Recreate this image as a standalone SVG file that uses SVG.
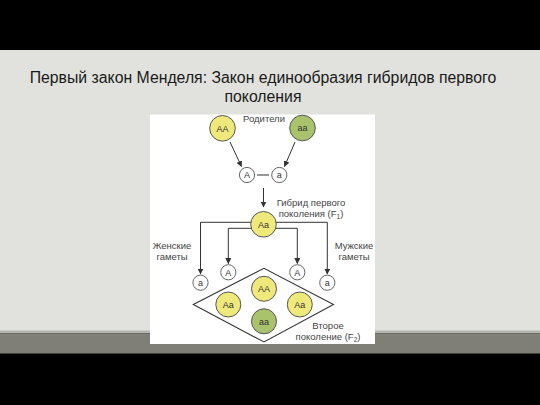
<svg xmlns="http://www.w3.org/2000/svg" width="540" height="405" viewBox="0 0 540 405">
<defs>
<marker id="ah" viewBox="0 0 10 10" refX="9" refY="5" markerWidth="6" markerHeight="6" orient="auto" markerUnits="userSpaceOnUse">
<path d="M0,0 L10,5 L0,10 z" fill="#333"/>
</marker>
<style>
.big{stroke:#555;stroke-width:1}
.y{fill:#efe97c}
.g{fill:#a9c36c}
.sm{fill:#fff;stroke:#555;stroke-width:0.9}
.ct{font-family:"Liberation Sans",Arial,sans-serif;font-size:9px;fill:#333;text-anchor:middle}
.lb{font-family:"Liberation Sans",Arial,sans-serif;font-size:9.5px;fill:#444;text-anchor:middle}
.ln{fill:none;stroke:#333;stroke-width:1}
</style>
</defs>
<rect x="0" y="0" width="540" height="405" fill="#000"/>
<rect x="0" y="50" width="540" height="281" fill="#e1e2dd"/>
<rect x="0" y="330.5" width="540" height="3" fill="#b4b5ad"/>
<rect x="0" y="333.5" width="540" height="20" fill="#7f7f78"/>
<rect x="150" y="114.5" width="225" height="229.5" fill="#fff"/>
<g id="title" font-family="'Liberation Sans',Arial,sans-serif" font-size="15.8" fill="#1a1a1a" text-anchor="middle">
<text x="263" y="83">Первый закон Менделя: Закон единообразия гибридов первого</text>
<text x="263" y="102">поколения</text>
</g>
<g id="connectors">
<line class="ln" x1="230" y1="142" x2="241.5" y2="166.5" marker-end="url(#ah)"/>
<line class="ln" x1="295" y1="142" x2="284.5" y2="166.5" marker-end="url(#ah)"/>
<line class="ln" x1="257" y1="175" x2="269" y2="175"/>
<line class="ln" x1="263.5" y1="188" x2="263.5" y2="207" marker-end="url(#ah)"/>
<polyline class="ln" points="251,222.3 200.5,222.3 200.5,274" marker-end="url(#ah)"/>
<polyline class="ln" points="252,228.3 228.3,228.3 228.3,263.5" marker-end="url(#ah)"/>
<polyline class="ln" points="276,222.3 327.3,222.3 327.3,274" marker-end="url(#ah)"/>
<polyline class="ln" points="275,228.3 297.3,228.3 297.3,263.5" marker-end="url(#ah)"/>
<polygon points="193.3,304.5 264,268.3 333.5,304.5 264,342" fill="none" stroke="#333" stroke-width="1.1"/>
</g>
<g id="labels">
<text class="lb" x="264" y="121.5">Родители</text>
<text class="lb" x="311" y="206">Гибрид первого</text>
<text class="lb" x="311" y="217">поколения (F<tspan font-size="6.5" dy="2">1</tspan><tspan dy="-2">)</tspan></text>
<text class="lb" x="172" y="248.5">Женские</text>
<text class="lb" x="172" y="260">гаметы</text>
<text class="lb" x="354" y="248.5">Мужские</text>
<text class="lb" x="354" y="260">гаметы</text>
<text class="lb" x="328" y="329">Второе</text>
<text class="lb" x="328" y="340">поколение (F<tspan font-size="6.5" dy="2">2</tspan><tspan dy="-2">)</tspan></text>
</g>
<g id="parent-AA"><circle class="big y" cx="222.5" cy="128.3" r="12.8"/><text class="ct" x="222.5" y="131.5">AA</text></g>
<g id="parent-aa"><circle class="big g" cx="302.5" cy="128" r="12.8"/><text class="ct" x="302.5" y="131.2">aa</text></g>
<g id="gamete-A"><circle class="sm" cx="247" cy="175" r="7.6"/><text class="ct" x="247" y="178.2">A</text></g>
<g id="gamete-a"><circle class="sm" cx="279.3" cy="175" r="7.6"/><text class="ct" x="279.3" y="178.2">a</text></g>
<g id="F1-Aa"><circle class="big y" cx="263.5" cy="224.3" r="12.8"/><text class="ct" x="263.5" y="227.5">Aa</text></g>
<g id="f-a"><circle class="sm" cx="200.5" cy="282.7" r="7.6"/><text class="ct" x="200.5" y="285.9">a</text></g>
<g id="f-A"><circle class="sm" cx="228.3" cy="272.3" r="7.6"/><text class="ct" x="228.3" y="275.5">A</text></g>
<g id="m-A"><circle class="sm" cx="297.3" cy="272.3" r="7.6"/><text class="ct" x="297.3" y="275.5">A</text></g>
<g id="m-a"><circle class="sm" cx="327.3" cy="282.7" r="7.6"/><text class="ct" x="327.3" y="285.9">a</text></g>
<g id="F2-AA"><circle class="big y" cx="264" cy="288.8" r="12.5"/><text class="ct" x="264" y="292">AA</text></g>
<g id="F2-Aa-left"><circle class="big y" cx="228.3" cy="304.5" r="12.5"/><text class="ct" x="228.3" y="307.7">Aa</text></g>
<g id="F2-Aa-right"><circle class="big y" cx="299.8" cy="304.5" r="12.5"/><text class="ct" x="299.8" y="307.7">Aa</text></g>
<g id="F2-aa"><circle class="big g" cx="264" cy="321.3" r="12.5"/><text class="ct" x="264" y="324.5">aa</text></g>
</svg>
